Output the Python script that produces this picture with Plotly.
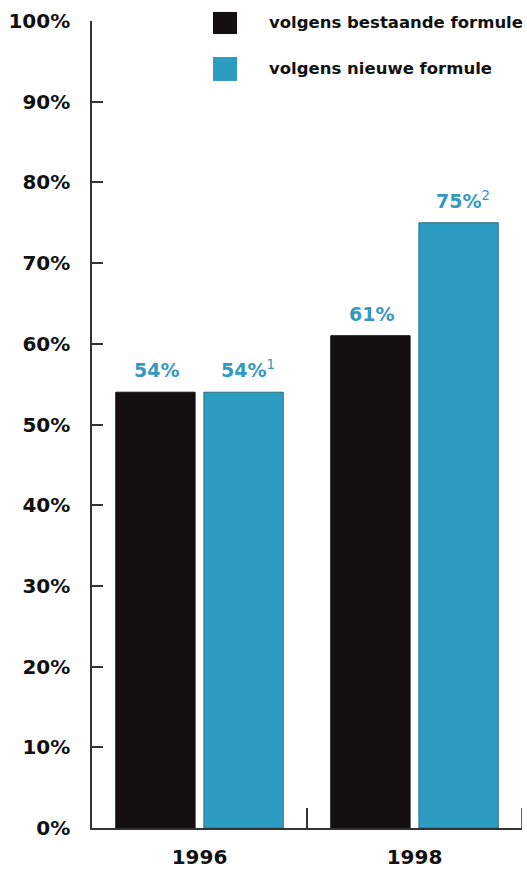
import plotly.graph_objects as go

# ---- data ----
years = ["1996", "1998"]
series_names = ["volgens bestaande formule", "volgens nieuwe formule"]
bestaande = [54, 61]
nieuwe = [54, 75]
footnotes_nieuwe = ["1", "2"]
y_ticks = [0, 10, 20, 30, 40, 50, 60, 70, 80, 90, 100]
y_tick_labels = [f"{v}%" for v in y_ticks]

BLACK = "#140f10"
TEAL = "#2c9cc2"
TEAL_TXT = "#3499c0"
AX = "#333333"
FONT = "DejaVu Sans"

fig = go.Figure()
fig.add_trace(go.Bar(x=years, y=bestaande, name=series_names[0],
                     marker=dict(color=BLACK, line=dict(color=BLACK, width=1)),
                     showlegend=False, hoverinfo="skip"))
fig.add_trace(go.Bar(x=years, y=nieuwe, name=series_names[1],
                     marker=dict(color=TEAL, line=dict(color="#2a6f88", width=1)),
                     showlegend=False, hoverinfo="skip"))

annotations = []
for i, v in enumerate(bestaande):
    annotations.append(dict(x=i, y=v, xref="x", yref="y", text=f"{v}%",
                            showarrow=False, xanchor="center", yanchor="bottom",
                            xshift=-43, yshift=9,
                            font=dict(family=FONT, size=19, color=TEAL_TXT, weight="bold")))
for i, (v, fn) in enumerate(zip(nieuwe, footnotes_nieuwe)):
    annotations.append(dict(x=i, y=v, xref="x", yref="y",
                            text=f"{v}%<sup><span style='font-weight:normal'>{fn}</span></sup>",
                            showarrow=False, xanchor="center", yanchor="bottom",
                            xshift=48, yshift=9,
                            font=dict(family=FONT, size=19, color=TEAL_TXT, weight="bold")))

# manual legend
swatches = [(1.0112, 0.9839, BLACK), (0.9554, 0.9257, TEAL)]
shapes = []
for (y0, y1, c), name in zip(swatches, series_names):
    shapes.append(dict(type="rect", xref="paper", yref="paper",
                       x0=0.2814, x1=0.3372, y0=y1, y1=y0,
                       fillcolor=c, line=dict(width=0)))
    annotations.append(dict(x=0.407, y=(y0 + y1) / 2, xref="paper", yref="paper",
                            text=name, showarrow=False, xanchor="left", yanchor="middle",
                            font=dict(family=FONT, size=16.5, color="#111111", weight="bold")))

# closing tick at right end of the category axis
shapes.append(dict(type="line", xref="x", yref="y", x0=1.5, x1=1.5,
                   ysizemode="pixel", yanchor=0, y0=0, y1=20,
                   line=dict(color=AX, width=1.5)))

fig.update_layout(
    width=527, height=870,
    margin=dict(l=92, r=5, t=21, b=42),
    paper_bgcolor="white", plot_bgcolor="white",
    barmode="group", bargap=0.18, bargroupgap=0.1,
    showlegend=False,
    annotations=annotations, shapes=shapes,
    xaxis=dict(type="category", range=[-0.5, 1.5], showline=True, linecolor=AX, linewidth=1.5,
               ticks="inside", tickson="boundaries", ticklen=20, tickcolor=AX, tickwidth=1.5,
               showgrid=False, zeroline=False, ticklabelstandoff=10, tickangle=0,
               automargin=False,
               tickfont=dict(family=FONT, size=20, color="#111111", weight="bold")),
    yaxis=dict(range=[0, 100], tickvals=y_ticks, ticktext=y_tick_labels,
               showline=True, linecolor=AX, linewidth=1.5,
               ticks="inside", ticklen=11, tickcolor=AX, tickwidth=1.5,
               showgrid=False, zeroline=False, ticklabelstandoff=16, automargin=False,
               tickfont=dict(family=FONT, size=20, color="#111111", weight="bold")),
)

fig.write_html("out.html")
